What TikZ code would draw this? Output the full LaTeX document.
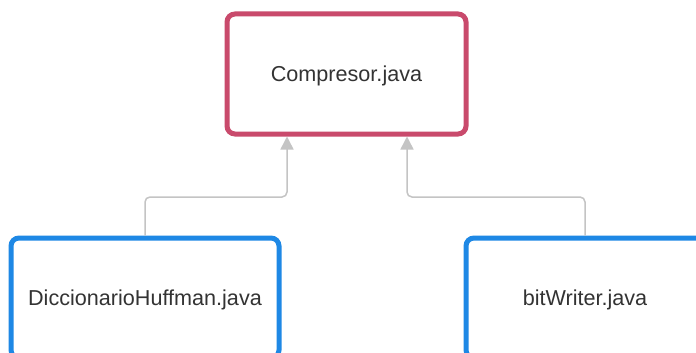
\documentclass[tikz,border=0pt]{standalone}
\usepackage{fontspec}
\setmainfont{Liberation Sans}
\usetikzlibrary{arrows.meta}
\definecolor{mainred}{HTML}{C94A6C}
\definecolor{depblue}{HTML}{1E88E5}
\definecolor{linkgray}{HTML}{C4C4C4}
\definecolor{txt}{HTML}{333333}
\tikzset{
  filebox/.style={draw, line width=5pt, rounded corners=8pt, fill=white,
    minimum height=120pt, text=txt, font=\fontsize{21.6}{26}\selectfont,
    inner sep=0pt, text height=19.5pt, text depth=4.5pt},
  mainfile/.style={filebox, draw=mainred, minimum width=239pt},
  depfile/.style={filebox, draw=depblue},
  link/.style={draw=linkgray, line width=1.5pt, rounded corners=5pt,
    -{Triangle[width=13pt,length=13pt,fill=linkgray]}}
}
\begin{document}
\begin{tikzpicture}[x=1pt,y=1pt]
  \useasboundingbox (0,0) rectangle (696,-353);
  \clip (0,0) rectangle (696,-353);
  \fill[white] (0,0) rectangle (696,-353);

  % files
  \node[mainfile] (cp) at (346.5,-74) {Compresor.java};
  \node[depfile, minimum width=268pt] (dh) at (145,-298) {DiccionarioHuffman.java};
  \node[depfile, minimum width=238pt] (bw) at (585,-298) {bitWriter.java};

  % arrow end points on the bottom of Compresor.java
  \coordinate (inL) at ([xshift=-59.5pt]cp.south);
  \coordinate (inR) at ([xshift=60.5pt]cp.south);

  % dependencies
  \draw[link] (dh.north) -- (dh.north |- 0,-197) -| (inL);
  \draw[link] (bw.north) -- (bw.north |- 0,-197) -| (inR);
\end{tikzpicture}
\end{document}
